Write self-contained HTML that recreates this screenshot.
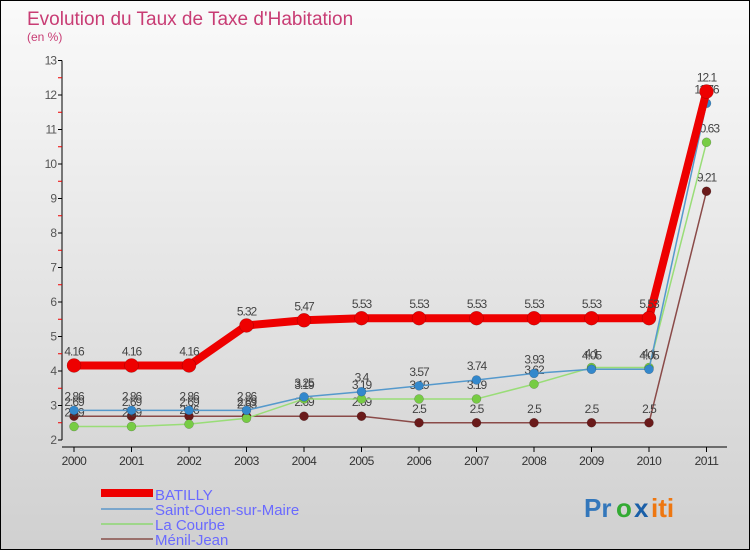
<!DOCTYPE html>
<html><head><meta charset="utf-8">
<style>
html,body{margin:0;padding:0;}
body{width:750px;height:550px;overflow:hidden;font-family:"Liberation Sans",sans-serif;}
#wrap{position:relative;width:748px;height:548px;border:1px solid #000;background:linear-gradient(#fafafa,#d0d0d0);}
svg text{font-family:"Liberation Sans",sans-serif;}
</style></head>
<body>
<div id="wrap">
<svg id="chart" width="748" height="548">
<text x="26" y="24" font-size="19" fill="#c83c74">Evolution du Taux de Taxe d'Habitation</text>
<text x="26" y="40" font-size="12" fill="#c83c74">(en %)</text>
<g id="axes"></g><g id="series"></g>
<g>
<rect x="100" y="488" width="52" height="8" fill="#ee0000"/>
<text x="154" y="499" font-size="15" fill="#6a6aff">BATILLY</text>
<rect x="100" y="507" width="52" height="2" fill="#7aa6cc"/>
<text x="154" y="514" font-size="15" fill="#6a6aff">Saint-Ouen-sur-Maire</text>
<rect x="100" y="522" width="52" height="2" fill="#9ed68a"/>
<text x="154" y="529" font-size="15" fill="#6a6aff">La Courbe</text>
<rect x="100" y="537" width="52" height="2" fill="#9a706c"/>
<text x="154" y="544" font-size="15" fill="#6a6aff">Ménil-Jean</text>
</g>
<g font-size="26" font-weight="bold">
<text x="583" y="516" fill="#3377bb">Pr</text><text x="615" y="516" fill="#33aa33">o</text><text x="633" y="516" fill="#1a5fa8">x</text><text x="650" y="516" fill="#ee7711">iti</text>
</g>
</svg>
</div>
<script>
const years=["2000","2001","2002","2003","2004","2005","2006","2007","2008","2009","2010","2011"];
const yTicks=[2,3,4,5,6,7,8,9,10,11,12,13];
const batilly=[4.16,4.16,4.16,5.32,5.47,5.53,5.53,5.53,5.53,5.53,5.53,12.1];
const saintOuen=[2.86,2.86,2.86,2.86,3.25,3.4,3.57,3.74,3.93,4.05,4.05,11.76];
const laCourbe=[2.39,2.39,2.46,2.63,3.19,3.19,3.19,3.19,3.62,4.1,4.1,10.63];
const menilJean=[2.69,2.69,2.69,2.69,2.69,2.69,2.5,2.5,2.5,2.5,2.5,9.21];
const NS="http://www.w3.org/2000/svg";
const X0=73,DX=57.5,Y0=439,YU=34.5;
function xs(i){return X0+i*DX;}
function ys(v){return Y0-(v-2)*YU;}
function mk(t,a,p){const e=document.createElementNS(NS,t);for(const k in a)e.setAttribute(k,a[k]);p.appendChild(e);return e;}
const axes=document.getElementById('axes'),ser=document.getElementById('series');
const ya=mk('line',{x1:61,y1:ys(13),x2:61,y2:ys(2),stroke:'#000'},axes);


const xa=mk('line',{x1:61,y1:446,x2:726,y2:446,stroke:'#000'},axes);


yTicks.forEach(v=>{
  mk('line',{x1:57,y1:ys(v),x2:61,y2:ys(v),stroke:'#000'},axes);
  if(v<13)mk('line',{x1:57,y1:ys(v+0.5),x2:61,y2:ys(v+0.5),stroke:'#e00'},axes);
  const t=mk('text',{x:55,y:ys(v)+4,'text-anchor':'end','font-size':12,fill:'#555','letter-spacing':'-1'},axes);
  t.textContent=v;
  
  
});
years.forEach((y,i)=>{
  mk('line',{x1:xs(i),y1:446,x2:xs(i),y2:451,stroke:'#000'},axes);
  const t=mk('text',{x:xs(i),y:464,'text-anchor':'middle','font-size':12,fill:'#333','letter-spacing':'-0.5'},axes);
  t.textContent=y;
  
  
});
function draw(data,name,color,dot,w,r){
  const g=mk('g',{},ser);
  
  
  mk('polyline',{points:data.map((v,i)=>xs(i)+','+ys(v)).join(' '),fill:'none',stroke:color,'stroke-width':w,'stroke-linejoin':'round'},g);
  data.forEach((v,i)=>{
    const c=mk('circle',{cx:xs(i),cy:ys(v),r:r,fill:dot,stroke:'rgba(0,0,0,0.3)','stroke-width':0.5},g);
    
    
    const t=mk('text',{x:xs(i),y:ys(v)-10,'text-anchor':'middle','font-size':12,fill:'#444','letter-spacing':'-1'},g);
    t.textContent=String(v);
    
    
  });
}
draw(menilJean,'menil-jean','#8a4a48','#6a1a1a',1.5,4.5);
draw(laCourbe,'la-courbe','#99dd77','#77cc44',1.5,4.5);
draw(saintOuen,'saint-ouen','#5599cc','#3388cc',1.5,4.5);
draw(batilly,'batilly','#ee0000','#ee0000',8,7);
</script>
</body></html>
